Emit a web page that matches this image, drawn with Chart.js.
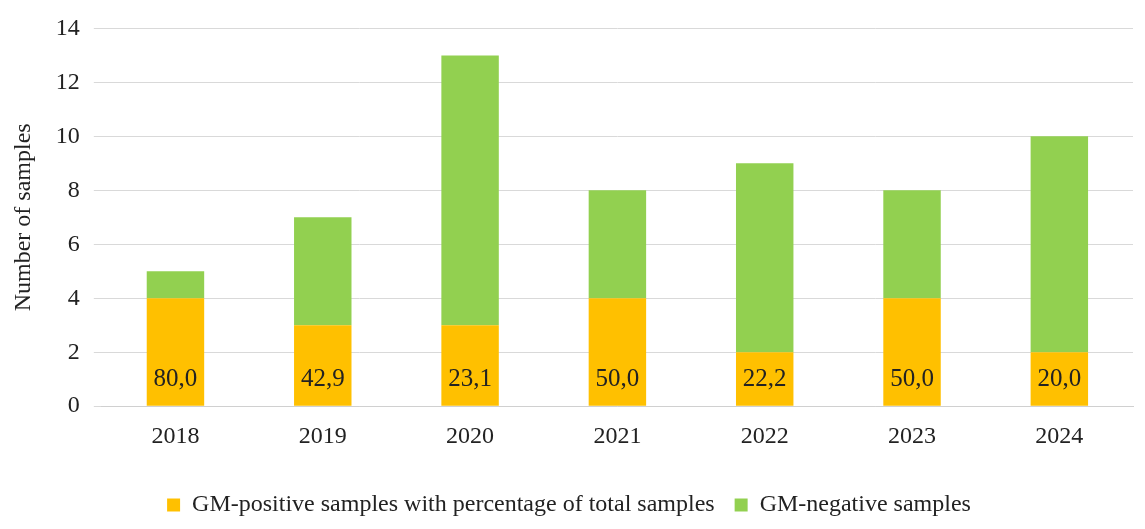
<!DOCTYPE html>
<html><head><script src="https://cdn.jsdelivr.net/npm/chart.js"></script>
<style>body{margin:0;background:#fff}#w{width:1145px;height:529px}</style></head>
<body><div id="w"><canvas id="c"></canvas></div>
<script>
const years=["2018","2019","2020","2021","2022","2023","2024"];
const positive=[4,3,3,4,2,4,2];
const negative=[1,4,10,4,7,4,8];
const pctLabels=["80,0","42,9","23,1","50,0","22,2","50,0","20,0"];
const yTicks=[0,2,4,6,8,10,12,14];
const font="'Liberation Serif','Times New Roman',serif";
const labelPlugin={id:'lbl',afterDatasetsDraw(ch){const c=ch.ctx,m=ch.getDatasetMeta(0),y=ch.scales.y;c.save();c.font="25px "+font;c.fillStyle="#222";c.textAlign="center";c.textBaseline="middle";m.data.forEach((b,i)=>c.fillText(pctLabels[i],b.x,y.getPixelForValue(1)));c.restore();}};
new Chart(document.getElementById('c'),{type:'bar',data:{labels:years,datasets:[
{label:'GM-positive samples with percentage of total samples',data:positive,backgroundColor:'#FFC000'},
{label:'GM-negative samples',data:negative,backgroundColor:'#92D050'}]},
options:{responsive:true,maintainAspectRatio:false,animation:false,
layout:{padding:{left:5,right:12,top:0,bottom:2}},
plugins:{legend:{position:'bottom',labels:{boxWidth:13,boxHeight:13,padding:20,color:'#222',font:{family:font,size:24}}},tooltip:{enabled:false}},
datasets:{bar:{categoryPercentage:1,barPercentage:0.39}},
scales:{x:{stacked:true,grid:{display:false},border:{color:'#d0d0d0'},ticks:{color:'#222',padding:8,font:{family:font,size:24}},
afterFit(a){a.height+=14;}},
y:{stacked:true,min:0,max:14,afterBuildTicks(a){a.ticks=yTicks.map(v=>({value:v}));},grid:{color:'#d9d9d9'},border:{display:false},ticks:{color:'#222',padding:14,font:{family:font,size:24}},
title:{display:true,text:'Number of samples',color:'#222',font:{family:font,size:24}}}}},
plugins:[labelPlugin]});
</script></body></html>
